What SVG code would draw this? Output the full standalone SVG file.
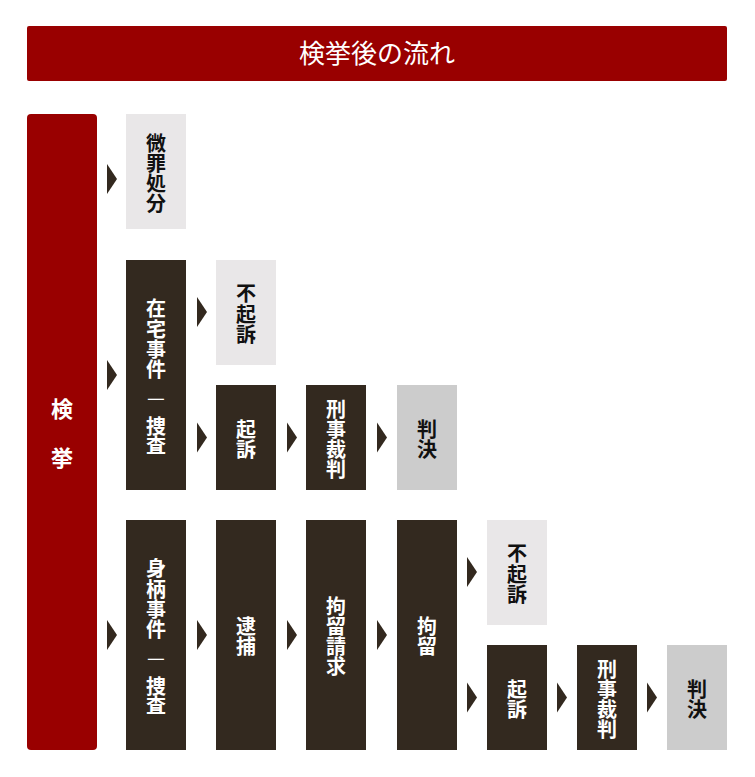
<svg xmlns="http://www.w3.org/2000/svg" xmlns:xlink="http://www.w3.org/1999/xlink" width="755" height="777" viewBox="0 0 755 777">
<style>
.dark{fill:#33291f}
.light{fill:#e9e7e8}
.gray{fill:#cccccc}
.red{fill:#990000}
.arrow{fill:#33291f}
text{font-family:"Noto Sans CJK JP","Noto Sans",sans-serif;font-weight:700;font-size:20px;text-anchor:middle;dominant-baseline:central}
.w{fill:#ffffff}
.b{fill:#111111}
.dash{font-weight:400}
.title{font-family:"Liberation Serif","Noto Sans CJK JP",serif;font-weight:400;font-size:26px;fill:#ffffff}
.big{font-size:22px}
</style>
<defs>
<path id="arr" class="arrow" d="M0,-15 L10,0 L0,15 Z"/>
</defs>
<rect width="755" height="777" fill="#ffffff"/>

<g id="title">
<rect class="red" x="27" y="26" width="700" height="55" rx="2"/>
<text class="title" x="377" y="54">検挙後の流れ</text>
</g>

<g id="kenkyo">
<rect class="red" x="27" y="114" width="70" height="636" rx="4"/>
<text class="w big" x="62" y="407">検</text>
<text class="w big" x="62" y="456">挙</text>
</g>

<g id="bizai">
<rect class="light" x="126" y="114" width="60" height="115"/>
<text class="b"><tspan x="156" y="141.5">微</tspan><tspan x="156" y="161.5">罪</tspan><tspan x="156" y="181.5">処</tspan><tspan x="156" y="201.5">分</tspan></text>
</g>

<g id="zaitaku">
<rect class="dark" x="126" y="260" width="60" height="230"/>
<text class="w"><tspan x="156" y="307">在</tspan><tspan x="156" y="327.5">宅</tspan><tspan x="156" y="348">事</tspan><tspan x="156" y="368">件</tspan><tspan class="dash" x="156" y="396">—</tspan><tspan x="156" y="425">捜</tspan><tspan x="156" y="444">査</tspan></text>
</g>

<g id="fukiso1">
<rect class="light" x="216" y="260" width="60" height="105"/>
<text class="b"><tspan x="246" y="292">不</tspan><tspan x="246" y="312.5">起</tspan><tspan x="246" y="333">訴</tspan></text>
</g>

<g id="kiso1">
<rect class="dark" x="216" y="385" width="60" height="105"/>
<text class="w"><tspan x="246" y="427.5">起</tspan><tspan x="246" y="447.5">訴</tspan></text>
</g>

<g id="keiji1">
<rect class="dark" x="306" y="385" width="60" height="105"/>
<text class="w"><tspan x="336" y="407.5">刑</tspan><tspan x="336" y="427.5">事</tspan><tspan x="336" y="447.5">裁</tspan><tspan x="336" y="467.5">判</tspan></text>
</g>

<g id="hanketsu1">
<rect class="gray" x="397" y="385" width="60" height="105"/>
<text class="b"><tspan x="427" y="427.5">判</tspan><tspan x="427" y="447.5">決</tspan></text>
</g>

<g id="migara">
<rect class="dark" x="126" y="520" width="60" height="230"/>
<text class="w"><tspan x="156" y="567">身</tspan><tspan x="156" y="587.5">柄</tspan><tspan x="156" y="608">事</tspan><tspan x="156" y="628">件</tspan><tspan class="dash" x="156" y="656">—</tspan><tspan x="156" y="685">捜</tspan><tspan x="156" y="704">査</tspan></text>
</g>

<g id="taiho">
<rect class="dark" x="216" y="520" width="60" height="230"/>
<text class="w"><tspan x="246" y="625">逮</tspan><tspan x="246" y="645">捕</tspan></text>
</g>

<g id="koryuseikyu">
<rect class="dark" x="306" y="520" width="60" height="230"/>
<text class="w"><tspan x="336" y="605">拘</tspan><tspan x="336" y="625">留</tspan><tspan x="336" y="645">請</tspan><tspan x="336" y="665">求</tspan></text>
</g>

<g id="koryu">
<rect class="dark" x="397" y="520" width="60" height="230"/>
<text class="w"><tspan x="427" y="625">拘</tspan><tspan x="427" y="645">留</tspan></text>
</g>

<g id="fukiso2">
<rect class="light" x="487" y="520" width="60" height="105"/>
<text class="b"><tspan x="517" y="552">不</tspan><tspan x="517" y="572.5">起</tspan><tspan x="517" y="593">訴</tspan></text>
</g>

<g id="kiso2">
<rect class="dark" x="487" y="645" width="60" height="105"/>
<text class="w"><tspan x="517" y="687.5">起</tspan><tspan x="517" y="707.5">訴</tspan></text>
</g>

<g id="keiji2">
<rect class="dark" x="577" y="645" width="60" height="105"/>
<text class="w"><tspan x="607" y="667.5">刑</tspan><tspan x="607" y="687.5">事</tspan><tspan x="607" y="707.5">裁</tspan><tspan x="607" y="727.5">判</tspan></text>
</g>

<g id="hanketsu2">
<rect class="gray" x="667" y="645" width="60" height="105"/>
<text class="b"><tspan x="697" y="687.5">判</tspan><tspan x="697" y="707.5">決</tspan></text>
</g>

<g id="connectors">
<use xlink:href="#arr" x="107" y="179"/>
<use xlink:href="#arr" x="107" y="375"/>
<use xlink:href="#arr" x="107" y="635"/>
<use xlink:href="#arr" x="197" y="312"/>
<use xlink:href="#arr" x="197" y="437.5"/>
<use xlink:href="#arr" x="287" y="437.5"/>
<use xlink:href="#arr" x="377" y="437.5"/>
<use xlink:href="#arr" x="197" y="635"/>
<use xlink:href="#arr" x="287" y="635"/>
<use xlink:href="#arr" x="377" y="635"/>
<use xlink:href="#arr" x="467" y="572"/>
<use xlink:href="#arr" x="467" y="697.5"/>
<use xlink:href="#arr" x="557" y="697.5"/>
<use xlink:href="#arr" x="647" y="697.5"/>
</g>
</svg>
